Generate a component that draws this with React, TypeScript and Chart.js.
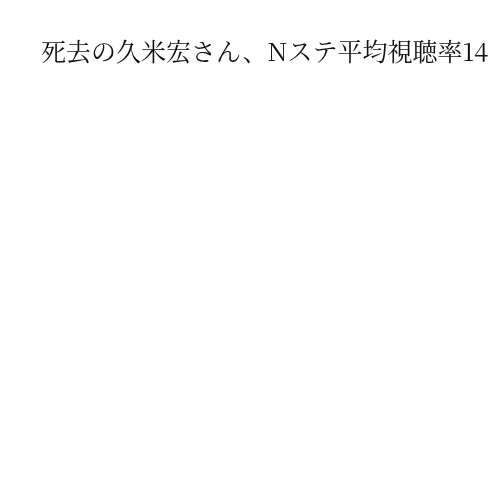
import { useEffect, useRef } from "react";
import { Chart, registerables } from "chart.js";

Chart.register(...registerables);

// the reference shows only the title; the plot area is empty
const titleText = "死去の久米宏さん、Nステ平均視聴率14";
const categories: string[] = [];
const ratings: number[] = [];

export default function App() {
  const canvasRef = useRef<HTMLCanvasElement | null>(null);
  const chartRef = useRef<Chart | null>(null);

  useEffect(() => {
    if (!canvasRef.current || chartRef.current) return;

    chartRef.current = new Chart(canvasRef.current, {
      type: "line",
      data: {
        labels: categories,
        datasets: [
          {
            label: "平均視聴率",
            data: ratings,
            borderColor: "#1f77b4",
            pointRadius: 0,
          },
        ],
      },
      options: {
        animation: false,
        responsive: true,
        maintainAspectRatio: false,
        layout: { padding: { left: 33 } },
        scales: {
          x: { display: false },
          y: { display: false },
        },
        plugins: {
          legend: { display: false },
          tooltip: { enabled: false },
          title: {
            display: true,
            text: titleText,
            align: "start",
            color: "#111",
            font: {
              family: "'Noto Serif CJK JP', serif",
              size: 25,
              weight: "normal",
            },
            padding: { top: 28, bottom: 10 },
          },
        },
      },
    });

    return () => {
      chartRef.current?.destroy();
      chartRef.current = null;
    };
  }, []);

  return (
    <div style={{ width: 484, height: 484, overflow: "hidden" }}>
      <div style={{ width: 620, height: 484, position: "relative" }}>
        <canvas ref={canvasRef} />
      </div>
    </div>
  );
}
